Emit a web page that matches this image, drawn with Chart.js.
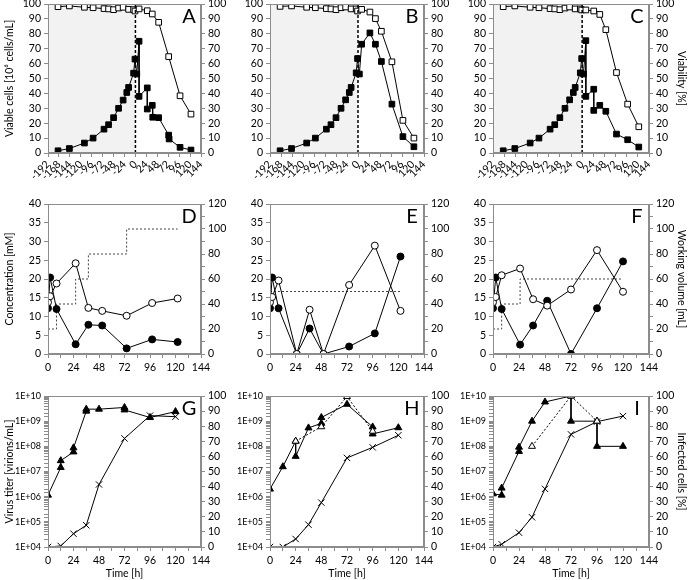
<!DOCTYPE html>
<html>
<head>
<meta charset="utf-8">
<script src="https://cdn.jsdelivr.net/npm/chart.js@4.4.0/dist/chart.umd.min.js"></script>
<style>
  body { margin: 0; background: #fff; width: 689px; height: 580px; overflow: hidden; position: relative; }
  canvas { position: absolute; }
</style>
</head>
<body>
<canvas id="cA"></canvas><canvas id="cB"></canvas><canvas id="cC"></canvas>
<canvas id="cD"></canvas><canvas id="cE"></canvas><canvas id="cF"></canvas>
<canvas id="cG"></canvas><canvas id="cH"></canvas><canvas id="cI"></canvas>
<script>
// ---- row 1: viable cells (filled squares) and viability (open squares)
const aViableT = [-170,-145,-112,-93,-69,-59,-48,-37,-27,-19,-15,-4,-1,3,8,8,26,26,37,38,51,73,74,98,122];
const aViable  = [1.5,3,6.7,10,16,19,23.7,30,35.5,40.6,44,53.6,63,53,75,38,43.7,29.5,32,24,23.7,12,9.4,3.8,2];
const aViabT   = [-170,-145,-112,-93,-69,-59,-48,-37,-27,-15,-4,-1,8,26,37,51,73,98,122];
const aViab    = [98.2,98.7,97.8,97.5,96.9,96.7,96.2,97.3,97.8,96.4,96.2,95.3,96.7,95.5,93.3,87.7,64.7,38.4,26.1];

const bViableT = [-170,-145,-112,-93,-69,-59,-48,-37,-27,-19,-15,-4,-1,3,8,26,38,51,74,98,122];
const bViable  = [1.5,3,6.7,10,16,19,23.7,30,35.7,40.6,44,53.8,63.4,53,73,80.6,73,61.4,32.8,11,4.2];
const bViabT   = [-170,-145,-112,-93,-69,-59,-48,-37,-27,-15,-4,-1,8,26,38,51,74,98,122];
const bViab    = [98.4,98.7,97.8,97.5,96.9,96.7,96.2,97.5,98,96.7,96.7,95.3,96.4,94.6,90.2,81.7,61.2,21.9,10];

const cViableT = [-170,-145,-112,-93,-69,-59,-48,-37,-27,-19,-15,-4,-1,3,8,8,25,25,38,51,74,98,122];
const cViable  = [1.5,3,6.7,10,16,19,23.7,30,35.7,40.6,44,53.8,63.4,53,75.4,38,42.8,28.6,32,28,12.7,8.9,4];
const cViabT   = [-170,-145,-112,-93,-69,-59,-48,-37,-27,-15,-4,-1,8,25,38,51,74,98,122];
const cViab    = [98.2,98.7,97.8,97.5,96.9,96.7,96.2,97.3,98,96.7,96.7,96,96,95.3,93,82.8,54,32.8,17.6];

// ---- row 2: concentrations (filled / open circles) and working volume (dashed steps)
const dT      = [0,2,8,26,38,51,74,98,122];
const dFilled = [12.2,20.4,12,2.6,7.8,7.6,1.5,3.9,3.2];
const dOpen   = [13.8,15.4,18.8,24.2,12.3,11.5,10.2,13.6,14.8];
const dVolT   = [0,8,8,26,26,38,38,74,74,122];
const dVol    = [20,20,40,40,60,60,80,80,100,100];

const eT      = [0,2,8,25,37,50,74,98,122];
const eFilled = [12.2,20.4,12.2,0,6.8,0,2,5.5,26];
const eOpen   = [13.8,15.2,19.6,0,11.8,0,18.4,28.9,11.5];
const eVolT   = [0,122];
const eVol    = [50,50];

const fT      = [0,2.5,8,25,37,50,72,96,120];
const fFilled = [12.2,20.4,12,2.5,7.6,14.2,0,12.2,24.7];
const fOpen   = [13.8,15.2,21,22.8,14.6,12.9,17.2,27.7,16.6];
const fVolT   = [0,8,8,25,25,120];
const fVol    = [20,20,40,40,60,60];

// ---- row 3: virus titer (triangles, log) and infected cells (crosses)
const gTriT = [0,12,12,24,24,36,36,48,72,72,96,120];
const gTri  = [1.15e6,1.45e7,2.7e7,6e7,8.7e7,2.5e9,3e9,3e9,3.5e9,2.8e9,1.4e9,2.4e9];
const gInfT = [0,12,24,36,48,72,96,120];
const gInf  = [0,0.7,8.8,14.4,41.4,71.9,87,86.3];

const hTriT  = [0,12,24,24,36,48,48,72,96,96,120];
const hTri   = [2e6,1.55e7,1.6e8,4e7,5.4e8,8.2e8,1.4e9,4.7e9,5.9e8,3.1e8,5.5e8];
const hOpenT = [24,48,72,96];
const hOpen  = [1.6e8,6e8,9.5e9,4e8];
const hInfT  = [0,12,24,36,48,72,96,120];
const hInf   = [0,0,5.3,14.8,29.4,59,66,74];

const iTriT  = [0,8,8,24,24,36,48,72,72,96,96,120];
const iTri   = [1.3e6,1.15e6,2.2e6,6.3e7,9.3e7,1e9,5.8e9,1e10,1e9,1e9,1e8,1e8];
const iOpenT = [36,72,96];
const iOpen  = [1e8,1e10,1e9];
const iInfT  = [0,8,24,36,48,72,96,120];
const iInf   = [0,1.8,9.5,19.7,38.5,74.6,83,86.7];

const row1Ticks = [-192,-168,-144,-120,-96,-72,-48,-24,0,24,48,72,96,120,144];

Chart.defaults.font.family = 'Lato';
Chart.defaults.font.size = 10.5;
Chart.defaults.color = '#000';

const cols = [{left: 0, lw: 48, pw: 153, rw: 28}, {left: 229, lw: 41, pw: 154, rw: 30}, {left: 454, lw: 39, pw: 156, rw: 40}];
const rows = [{top: -6, ph: 149, xh: 32}, {top: 194, ph: 150, xh: 22}, {top: 386, ph: 151, xh: 33}];
const PADTOP = 10;
const AXIS = '#8c8c8c';

function pts(xs, ys) { return xs.map((x, i) => ({x: x, y: ys[i]})); }

const panelPlugin = {
  id: 'panel',
  beforeDatasetsDraw(chart, args, opts) {
    if (!opts.shade) return;
    const a = chart.chartArea, x = chart.scales.x, ctx = chart.ctx;
    const l = x.getPixelForValue(opts.shade[0]), r = x.getPixelForValue(opts.shade[1]);
    ctx.save();
    ctx.fillStyle = '#f2f2f2';
    ctx.fillRect(l, a.top, r - l, a.bottom - a.top);
    ctx.restore();
  },
  afterDraw(chart, args, opts) {
    const a = chart.chartArea, ctx = chart.ctx;
    ctx.save();
    ctx.strokeStyle = AXIS;
    ctx.lineWidth = 1;
    ctx.strokeRect(Math.round(a.left) + 0.5, Math.round(a.top) + 0.5, Math.round(a.right - a.left) - 1, Math.round(a.bottom - a.top) - 1);
    ctx.fillStyle = '#000';
    ctx.font = '20px Lato';
    ctx.textAlign = 'center';
    ctx.textBaseline = 'middle';
    ctx.fillText(opts.letter, a.right - 12, a.top + 13);
    ctx.restore();
  }
};

function line(data, o) {
  return Object.assign({
    data: data, showLine: true, borderColor: '#000', borderWidth: 1,
    pointBorderColor: '#000', pointBorderWidth: 1, pointRadius: 3.5,
    pointBackgroundColor: '#000', tension: 0
  }, o);
}

function yAxis(pos, min, max, step, w, title, labelStep, extra) {
  return Object.assign({
    type: 'linear', position: pos, min: min, max: max,
    afterFit: s => { s.width = w; },
    ticks: {
      stepSize: step, autoSkip: false, padding: 3,
      callback: v => (labelStep && v % labelStep !== 0) ? '' : v
    },
    grid: {drawOnChartArea: false, drawTicks: true, tickLength: 4, color: AXIS},
    border: {color: AXIS},
    title: {display: !!title, text: title || '', font: {size: 10.5}, padding: {top: pos === 'left' ? 3 : 1, bottom: 0}}
  }, extra || {});
}

function xAxis(min, max, h, rotated, title) {
  return {
    type: 'linear', min: min, max: max,
    afterFit: s => { s.height = h; },
    afterBuildTicks: rotated ? (s => { s.ticks = row1Ticks.map(v => ({value: v})); }) : undefined,
    ticks: {
      stepSize: 12, autoSkip: false, padding: rotated ? 1 : 3,
      minRotation: rotated ? 45 : 0, maxRotation: rotated ? 45 : 0,
      callback: v => (v % 24 !== 0) ? '' : v
    },
    grid: {drawOnChartArea: false, drawTicks: true, tickLength: 4, color: AXIS},
    border: {color: AXIS},
    title: {display: !!title, text: title || '', font: {size: 10.5}, padding: {top: 2, bottom: 0}}
  };
}

function makeChart(id, r, c, datasets, scales, panelOpts) {
  const col = cols[c], row = rows[r];
  const cv = document.getElementById(id);
  cv.width = col.lw + col.pw + col.rw;
  cv.height = PADTOP + row.ph + row.xh;
  cv.style.left = col.left + 'px';
  cv.style.top = row.top + 'px';
  new Chart(cv.getContext('2d'), {
    type: 'scatter',
    data: {datasets: datasets},
    options: {
      responsive: false, animation: false, devicePixelRatio: 1,
      layout: {padding: {top: PADTOP, left: 0, right: 0, bottom: 0}},
      plugins: {legend: {display: false}, tooltip: {enabled: false}, panel: panelOpts},
      scales: scales
    },
    plugins: [panelPlugin]
  });
}

// ---- row 1
function row1(id, c, letter, vT, v, viT, vi) {
  const left = c === 0 ? 'Viable cells [10\u2076 cells/mL]' : null;
  const right = c === 2 ? 'Viability [%]' : null;
  makeChart(id, 0, c, [
    line(pts([0, 0], [0, 100]), {borderDash: [3, 2], borderWidth: 1.5, pointRadius: 0}),
    line(pts(viT, vi), {pointStyle: 'rect', pointBackgroundColor: '#fff', pointRadius: 4}),
    line(pts(vT, v), {pointStyle: 'rect', pointRadius: 4})
  ], {
    x: xAxis(-192, 144, rows[0].xh, true, null),
    y: yAxis('left', 0, 100, 10, cols[c].lw, left),
    y2: yAxis('right', 0, 100, 10, cols[c].rw, right)
  }, {letter: letter, shade: [-192, 0]});
}
row1('cA', 0, 'A', aViableT, aViable, aViabT, aViab);
row1('cB', 1, 'B', bViableT, bViable, bViabT, bViab);
row1('cC', 2, 'C', cViableT, cViable, cViabT, cViab);

// ---- row 2
function row2(id, c, letter, t, filled, open, vT, vol) {
  const left = c === 0 ? 'Concentration [mM]' : null;
  const right = c === 2 ? 'Working volume [mL]' : null;
  makeChart(id, 1, c, [
    line(pts(t, open), {pointBackgroundColor: '#fff'}),
    line(pts(t, filled), {}),
    line(pts(vT, vol), {yAxisID: 'y2', borderDash: [2, 2], borderColor: '#444', pointRadius: 0})
  ], {
    x: xAxis(0, 144, rows[1].xh, false, null),
    y: yAxis('left', 0, 40, 5, cols[c].lw, left),
    y2: yAxis('right', 0, 120, 10, cols[c].rw, right, 20)
  }, {letter: letter});
}
row2('cD', 0, 'D', dT, dFilled, dOpen, dVolT, dVol);
row2('cE', 1, 'E', eT, eFilled, eOpen, eVolT, eVol);
row2('cF', 2, 'F', fT, fFilled, fOpen, fVolT, fVol);

// ---- row 3
function logLabel(v) {
  const e = Math.log10(v);
  if (Math.abs(e - Math.round(e)) > 1e-6) return '';
  return '1E+' + String(Math.round(e)).padStart(2, '0');
}
function row3(id, c, letter, triT, tri, openT, open, infT, inf) {
  const left = c === 0 ? 'Virus titer [virions/mL]' : null;
  const right = c === 2 ? 'Infected cells [%]' : null;
  const ds = [];
  if (openT) ds.push(line(pts(openT, open), {pointStyle: 'triangle', pointBackgroundColor: '#fff', pointRadius: 4, borderDash: [2, 2]}));
  ds.push(line(pts(triT, tri), {pointStyle: 'triangle', pointRadius: 4}));
  ds.push(line(pts(infT, inf), {yAxisID: 'y2', pointStyle: 'crossRot', pointRadius: 4.5, pointBackgroundColor: '#fff'}));
  makeChart(id, 2, c, ds, {
    x: xAxis(0, 144, rows[2].xh, false, 'Time [h]'),
    y: yAxis('left', 1e4, 1e10, null, cols[c].lw, left, null, {
      type: 'logarithmic',
      ticks: {autoSkip: false, padding: 3, font: {size: 9}, callback: logLabel}
    }),
    y2: yAxis('right', 0, 100, 10, cols[c].rw, right)
  }, {letter: letter});
}
row3('cG', 0, 'G', gTriT, gTri, null, null, gInfT, gInf);
row3('cH', 1, 'H', hTriT, hTri, hOpenT, hOpen, hInfT, hInf);
row3('cI', 2, 'I', iTriT, iTri, iOpenT, iOpen, iInfT, iInf);
</script>
</body>
</html>
